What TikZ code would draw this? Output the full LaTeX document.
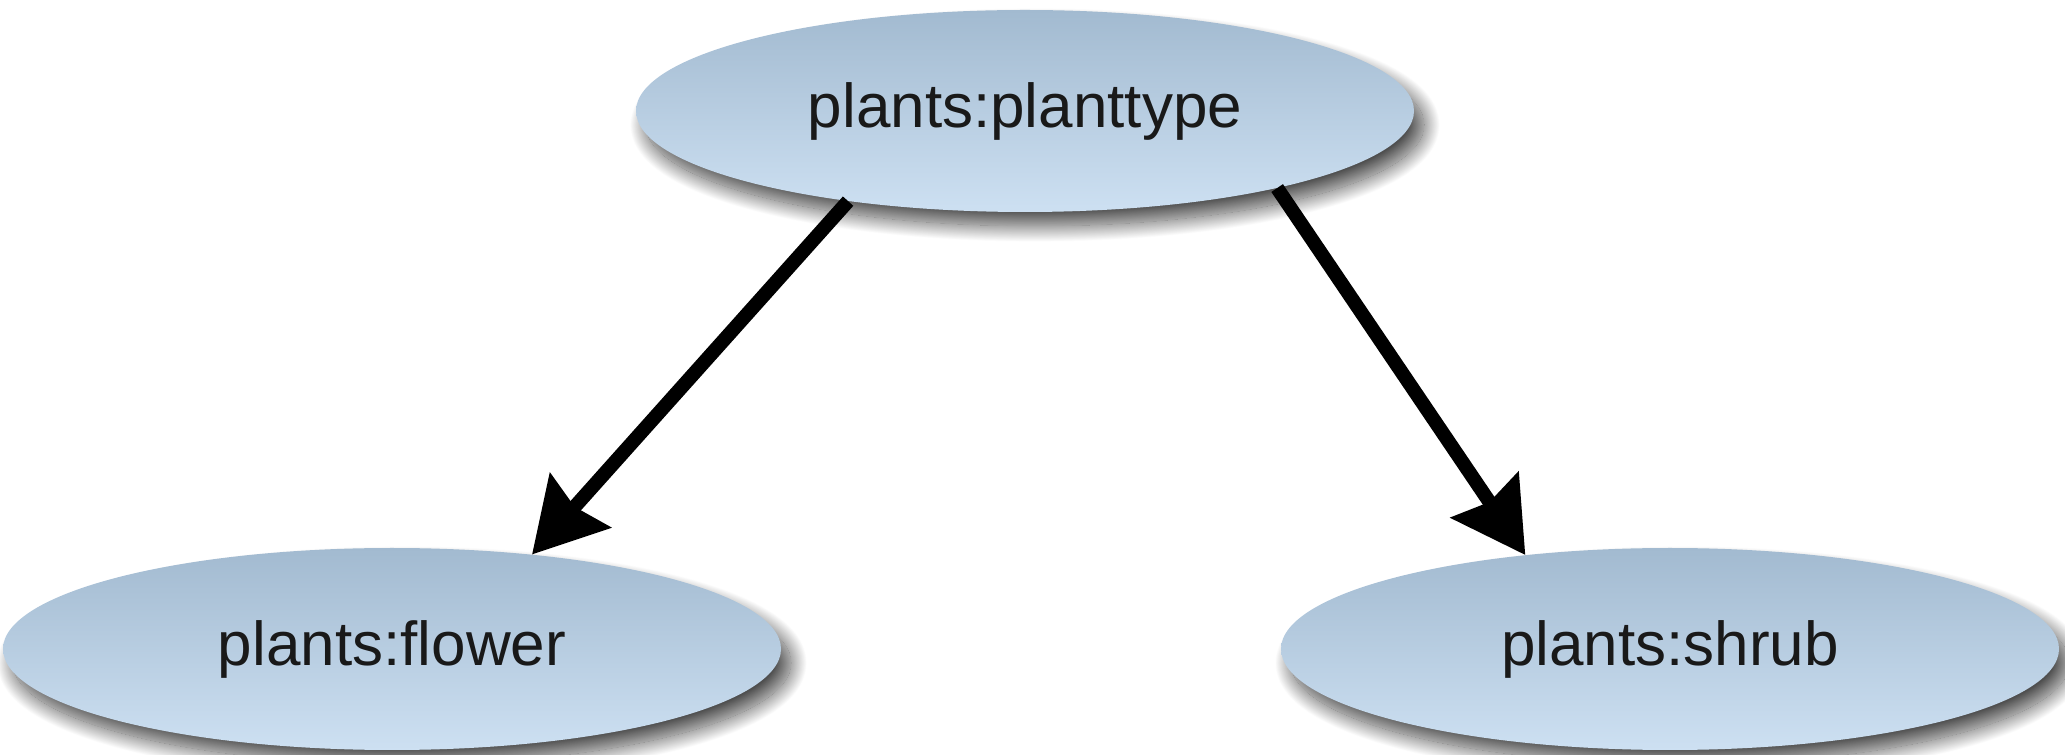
\documentclass[tikz,border=0pt]{standalone}
\usepackage{fontspec}
\setmainfont{Liberation Sans}
\usetikzlibrary{arrows.meta,positioning,shapes.geometric,shadows.blur}
\definecolor{planttop}{RGB}{162,186,208}
\definecolor{plantbottom}{RGB}{205,224,242}
\definecolor{planttext}{RGB}{25,25,25}

\begin{document}
\begin{tikzpicture}[x=1pt,y=1pt,
  concept/.style={ellipse,top color=planttop,bottom color=plantbottom,draw=none,minimum width=778pt,minimum height=202pt,inner sep=0pt,
    text=planttext,font=\fontsize{62}{74}\selectfont,
    blur shadow={shadow xshift=10pt,shadow yshift=-14pt,shadow blur radius=16pt,shadow blur steps=40,shadow opacity=70}},
  arrow/.style={-{Stealth[length=72pt,width=80pt,inset=8pt]},line width=14pt,draw=black}]
  \useasboundingbox (0,0) rectangle (2065,755);
  \node[concept] (planttype) at (1025,644) {plants:planttype};
  \node[concept] (flower) at (392,106) {plants:flower};
  \node[concept] (shrub) at (1670,106) {plants:shrub};
  \draw[arrow] (planttype.207) -- (flower.34); \draw[arrow] (planttype.343) -- (shrub.147);
\end{tikzpicture}
\end{document}
